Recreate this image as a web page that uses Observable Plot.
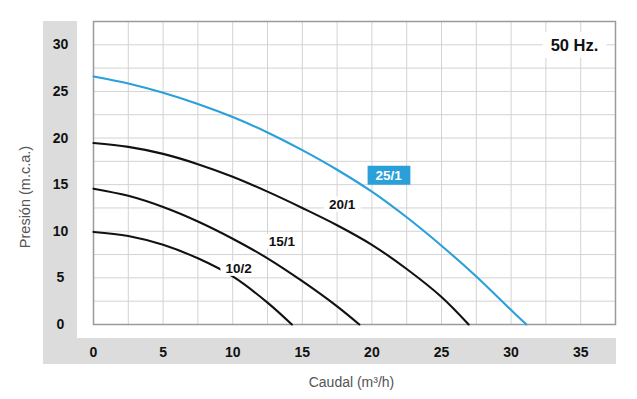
<!DOCTYPE html>
<html><head><meta charset="utf-8">
<script src="https://cdn.jsdelivr.net/npm/d3@7"></script>
<script src="https://cdn.jsdelivr.net/npm/@observablehq/plot@0.6"></script>
<style>
body{margin:0;background:#fff;font-family:"Liberation Sans",Arial,Helvetica,sans-serif;}
</style></head><body><div id="chart"></div>
<script>
// ---- data ----
const series = ["10/2", "15/1", "20/1", "25/1"];
const q_10_2 = [0, 2.5, 5, 7.5, 10, 12.5, 14.25];
const h_10_2 = [9.93, 9.5, 8.55, 7.1, 5.15, 2.35, 0];
const q_15_1 = [0, 2.5, 5, 7.5, 10, 12.5, 15, 17.5, 19.1];
const h_15_1 = [14.57, 13.8, 12.6, 11.05, 9.2, 7.1, 4.65, 1.95, 0];
const q_20_1 = [0, 2.5, 5, 7.5, 10, 12.5, 15, 17.5, 20, 22.5, 25, 26.95];
const h_20_1 = [19.46, 19.05, 18.3, 17.2, 15.85, 14.25, 12.5, 10.65, 8.55, 5.95, 2.95, 0];
const q_25_1 = [0, 2.5, 5, 7.5, 10, 12.5, 15, 17.5, 20, 22.5, 25, 27.5, 30, 31.1];
const h_25_1 = [26.6, 25.85, 24.85, 23.65, 22.25, 20.6, 18.7, 16.6, 14.25, 11.5, 8.45, 5.15, 1.55, 0];
const labelX = [10.42, 13.54, 17.86, 21.21];
const labelY = [6.0, 8.9, 12.89, 15.99];
const seriesColor = ["#111111", "#111111", "#111111", "#2aa0da"];
const xTicks = [0, 5, 10, 15, 20, 25, 30, 35];
const yTicks = [0, 5, 10, 15, 20, 25, 30];
const xGrid = [2.5, 5, 7.5, 10, 12.5, 15, 17.5, 20, 22.5, 25, 27.5, 30, 32.5, 35];
const yGrid = [2.5, 5, 7.5, 10, 12.5, 15, 17.5, 20, 22.5, 25, 27.5, 30];
const xTitle = "Caudal (m³/h)";
const yTitle = "Presión (m.c.a.)";
const freqLabel = "50 Hz.";

const qs = [q_10_2, q_15_1, q_20_1, q_25_1];
const hs = [h_10_2, h_15_1, h_20_1, h_25_1];
const rows = series.flatMap((s, i) => qs[i].map((q, j) => ({serie: s, q, h: hs[i][j]})));
const labels = series.map((s, i) => ({serie: s, x: labelX[i], y: labelY[i]}));

const font = "Liberation Sans, Arial, Helvetica, sans-serif";
const chart = Plot.plot({
  width: 637, height: 399,
  marginLeft: 93, marginRight: 22, marginTop: 21, marginBottom: 75,
  style: {fontFamily: font, background: "transparent", overflow: "visible"},
  x: {domain: [0, 37.5]},
  y: {domain: [0, 32.5]},
  color: {domain: series, range: seriesColor},
  marks: [
    Plot.gridX(xGrid, {stroke: "#d3d3d3", strokeOpacity: 1, strokeWidth: 1}),
    Plot.gridY(yGrid, {stroke: "#d3d3d3", strokeOpacity: 1, strokeWidth: 1}),
    Plot.frame({stroke: "#9a9a9a", strokeWidth: 1.5}),
    Plot.axisX(xTicks, {tickSize: 0, tickPadding: 23, fontSize: 14, fontWeight: "bold", fill: "#111", label: null}),
    Plot.axisY(yTicks, {tickSize: 0, tickPadding: 33, textAnchor: "middle", fontSize: 14, fontWeight: "bold", fill: "#111", label: null}),
    Plot.line(rows, {x: "q", y: "h", z: "serie", stroke: "serie", strokeWidth: 2.1, curve: "catmull-rom"}),
    Plot.text(labels.slice(0, 3), {x: "x", y: "y", text: "serie", fontSize: 13.5, fontWeight: "bold", fill: "#111", className: "lbl-white"}),
    Plot.text(labels.slice(3), {x: "x", y: "y", text: "serie", fontSize: 13.5, fontWeight: "bold", fill: "#fff", className: "lbl-blue"}),
    Plot.text([freqLabel], {frameAnchor: "top-right", dx: -41, dy: 24, textAnchor: "middle", lineAnchor: "middle", fontSize: 16.5, fontWeight: "bold", fill: "#111", className: "lbl-hz"}),
    Plot.text([xTitle], {frameAnchor: "bottom", dx: -3, dy: 58, lineAnchor: "middle", fontSize: 14, fill: "#555"}),
    Plot.text([yTitle], {frameAnchor: "left", dx: -68, dy: 24, rotate: -90, textAnchor: "middle", lineAnchor: "middle", fontSize: 14.5, fill: "#555"})
  ]
});
document.getElementById("chart").appendChild(chart);

// grey L-shaped band behind the tick labels
const svg = d3.select(chart);
const first = chart.firstChild;
const bandColor = "#dcdcdc";
svg.insert("rect", () => first).attr("x", 43).attr("y", 21).attr("width", 34).attr("height", 343).attr("fill", bandColor);
svg.insert("rect", () => first).attr("x", 43).attr("y", 338).attr("width", 573).attr("height", 26).attr("fill", bandColor);
svg.insert("rect", () => first).attr("x", 77).attr("y", 21).attr("width", 540).attr("height", 317).attr("fill", "#fff");

function boxes(cls, fill, px, py) {
  svg.selectAll(`g.${cls} text`).each(function() {
    const b = this.getBBox();
    const t = this.getAttribute("transform");
    const r = d3.select(this.parentNode).insert("rect", () => this)
      .attr("x", b.x - px).attr("y", b.y - py)
      .attr("width", b.width + 2 * px).attr("height", b.height + 2 * py)
      .attr("fill", fill);
    if (t) r.attr("transform", t);
  });
}
boxes("lbl-white", "#fff", 5, 0);
boxes("lbl-blue", "#2aa0da", 8, 2);
boxes("lbl-hz", "#fff", 8, 4);
</script></body></html>
